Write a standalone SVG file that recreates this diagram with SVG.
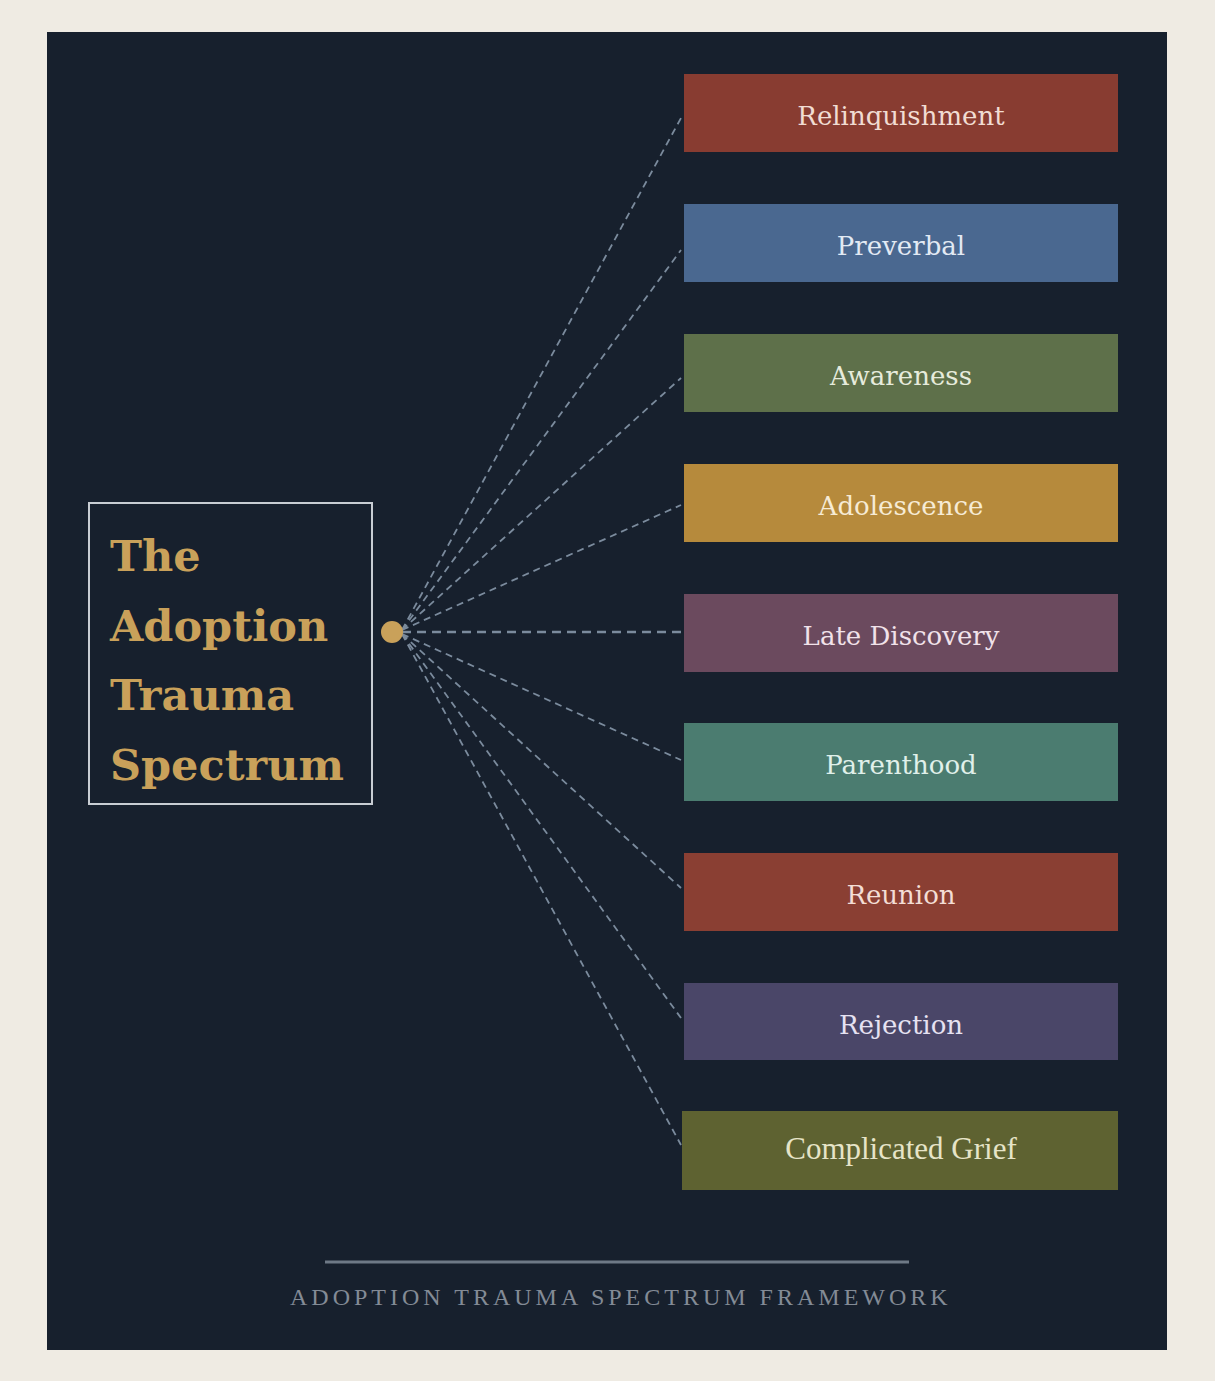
<svg xmlns="http://www.w3.org/2000/svg" width="1215" height="1381" viewBox="0 0 1215 1381">
<style>
.box{stroke:none}
.lbl{font-family:"DejaVu Serif","Liberation Serif",serif;font-size:26px;text-anchor:middle}
.conn{fill:none;stroke:#7B8B9D;stroke-width:1.8;stroke-dasharray:7 5}
.title{font-family:"DejaVu Serif","Liberation Serif",serif;font-weight:bold;font-size:43px;fill:#C9A15A}
</style>
<rect x="0" y="0" width="1215" height="1381" fill="#EFEBE3"/>
<rect x="47" y="32" width="1120" height="1318" fill="#17202D"/>
<g id="connectors">
<path class="conn" d="M402 630 L681 118"/>
<path class="conn" d="M402 630 L681 250"/>
<path class="conn" d="M402 630 L681 378"/>
<path class="conn" d="M402 630 L681 505"/>
<path class="conn" d="M402 632 L681 632" style="stroke-width:2.4;stroke-dasharray:9 6"/>
<path class="conn" d="M402 634 L681 760"/>
<path class="conn" d="M402 634 L681 888"/>
<path class="conn" d="M402 634 L681 1018"/>
<path class="conn" d="M402 634 L681 1145"/>
</g>
<g id="title">
<rect x="89" y="503" width="283" height="301" fill="none" stroke="#C8CDD3" stroke-width="2"/>
<text class="title" x="110" y="571">The</text>
<text class="title" x="110" y="641">Adoption</text>
<text class="title" x="110" y="710">Trauma</text>
<text class="title" x="110" y="780">Spectrum</text>
</g>
<g id="hub"><circle cx="392" cy="632" r="11" fill="#C9A15A"/></g>
<g id="relinquishment"><rect class="box" x="684" y="74" width="434" height="78" fill="#883C31"/><text class="lbl" x="901" y="125" fill="#F1DCD3">Relinquishment</text></g>
<g id="preverbal"><rect class="box" x="684" y="204" width="434" height="78" fill="#4A6890"/><text class="lbl" x="901" y="255" fill="#E2EAF4">Preverbal</text></g>
<g id="awareness"><rect class="box" x="684" y="334" width="434" height="78" fill="#5E704A"/><text class="lbl" x="901" y="385" fill="#E6EBDC">Awareness</text></g>
<g id="adolescence"><rect class="box" x="684" y="464" width="434" height="78" fill="#B68A3C"/><text class="lbl" x="901" y="515" fill="#F6EBD5">Adolescence</text></g>
<g id="late-discovery"><rect class="box" x="684" y="594" width="434" height="78" fill="#6B4A5E"/><text class="lbl" x="901" y="645" fill="#F1E2EA">Late Discovery</text></g>
<g id="parenthood"><rect class="box" x="684" y="723" width="434" height="78" fill="#4B7C70"/><text class="lbl" x="901" y="774" fill="#E0F0EA">Parenthood</text></g>
<g id="reunion"><rect class="box" x="684" y="853" width="434" height="78" fill="#8A3F33"/><text class="lbl" x="901" y="904" fill="#F3DDD5">Reunion</text></g>
<g id="rejection"><rect class="box" x="684" y="983" width="434" height="77" fill="#4A4668"/><text class="lbl" x="901" y="1034" fill="#E6E2F2">Rejection</text></g>
<g id="complicated-grief"><rect class="box" x="682" y="1111" width="436" height="79" fill="#5E6231"/><text x="901" y="1159" fill="#E6E4C8" style="font-family:'Liberation Serif',serif;font-size:31px;text-anchor:middle">Complicated Grief</text></g>
<g id="footer">
<line x1="325" y1="1262" x2="909" y2="1262" stroke="#6E7986" stroke-width="3"/>
<text x="290" y="1305" fill="#838B96" style="font-family:'Liberation Serif',serif;font-size:24px;letter-spacing:4px">ADOPTION TRAUMA SPECTRUM FRAMEWORK</text>
</g>
</svg>
